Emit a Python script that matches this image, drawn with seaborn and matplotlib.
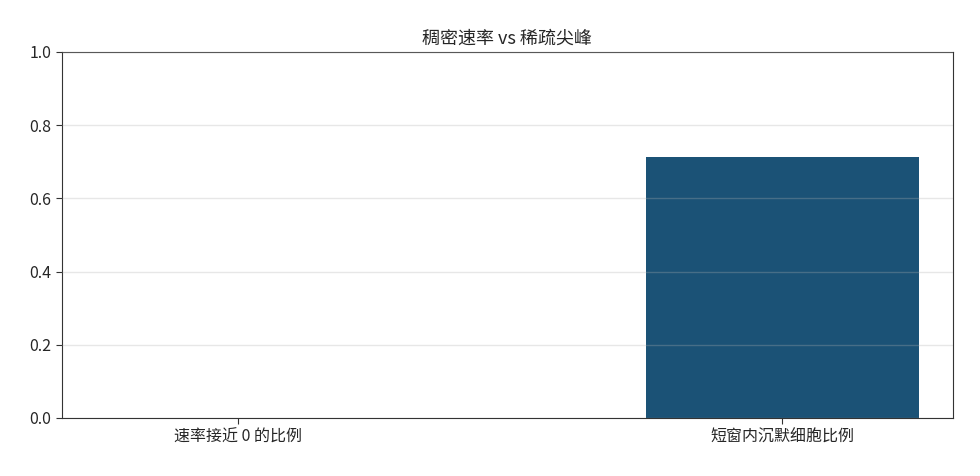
import matplotlib
matplotlib.use("Agg")
import matplotlib.pyplot as plt
import seaborn as sns
import pandas as pd

# values
labels = ["速率接近 0 的比例", "短窗内沉默细胞比例"]
values = [0.0, 0.714]
bar_color = "#1b5276"

df = pd.DataFrame({"metric": labels, "ratio": values})

sns.set_style("white")
plt.rcParams['font.family'] = ['Noto Sans CJK SC', 'DejaVu Sans']

fig, ax = plt.subplots(figsize=(9.8, 4.76), dpi=100)
sns.barplot(data=df, x="metric", y="ratio", color=bar_color, width=0.5,
            saturation=1, edgecolor="none", linewidth=0, ax=ax)

ax.set_xlim(-0.3235, 1.3125)
ax.set_ylim(0, 1)
ax.set_title("稠密速率 vs 稀疏尖峰", fontsize=13)
ax.set_xlabel("")
ax.set_ylabel("")
ax.tick_params(axis="both", labelsize=11.5, length=4, color="#333333", bottom=True, left=True)
ax.grid(axis="y", color="#b0b0b0", alpha=0.3, linewidth=1)
ax.set_axisbelow(False)
for s in ax.spines.values():
    s.set_color("#333333")

fig.subplots_adjust(left=0.063, right=0.972, top=0.891, bottom=0.122)
fig.savefig("out.png", dpi=100)
